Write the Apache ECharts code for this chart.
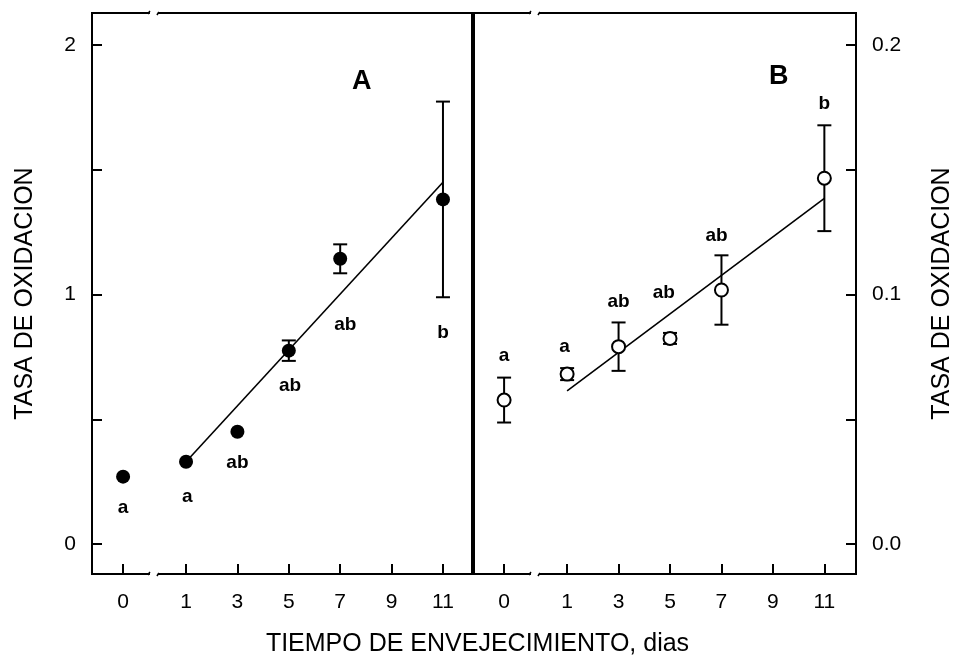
<!DOCTYPE html>
<html>
<head>
<meta charset="utf-8">
<script src="https://cdn.jsdelivr.net/npm/echarts@6/dist/echarts.min.js"></script>
<style>
html, body { margin: 0; padding: 0; background: #fff; }
#chart { width: 955px; height: 662px; }
</style>
</head>
<body>
<div id="chart"></div>
<script>
// el eje x esta cortado entre 0 y 1: el dia 0 se dibuja en una posicion ficticia
var POS_CERO = -1.45;
var diasEje = [0, 1, 3, 5, 7, 9, 11];
var ticksY_A = [0, 0.5, 1, 1.5, 2];
var etiquetasY_A = [0, 1, 2];
var ticksY_B = [0, 0.05, 0.1, 0.15, 0.2];
var etiquetasY_B = [0, 0.1, 0.2];

// Panel A (circulos llenos)
var diasA = [0, 1, 3, 5, 7, 11];
var mediaA = [0.27, 0.33, 0.45, 0.775, 1.143, 1.381];
var errorA = [0, 0, 0, 0.041, 0.058, 0.392];
var rectaA = [[1, 0.33], [11, 1.45]];
var letrasA = ['a', 'a', 'ab', 'ab', 'ab', 'b'];
var letrasXA = [0, 1.05, 3, 5.05, 7.2, 11];
var letrasYA = [0.144, 0.19, 0.325, 0.633, 0.88, 0.846];

// Panel B (circulos vacios)
var diasB = [0, 1, 3, 5, 7, 11];
var mediaB = [0.0577, 0.0681, 0.0791, 0.0824, 0.1018, 0.1466];
var errorB = [0.009, 0.0024, 0.0097, 0.0022, 0.0139, 0.0212];
var rectaB = [[1, 0.0614], [11, 0.1385]];
var letrasB = ['a', 'a', 'ab', 'ab', 'ab', 'b'];
var letrasXB = [0, 0.9, 3, 4.76, 6.81, 11];
var letrasYB = [0.0754, 0.079, 0.0971, 0.1007, 0.1234, 0.1766];

var FUENTE = '"Liberation Sans", Arial, sans-serif';

function pos(d) {
	return d === 0 ? POS_CERO : d;
}

function puntos(dias, valores, extra) {
	return dias.map(function(d, i) {
		var p = [pos(d), valores[i]];
		if (extra) p.push(extra[i]);
		return p;
	});
}

function barraError(params, api) {
	var x = api.value(0), y = api.value(1), e = api.value(2);
	if (!e) return null;
	var a = api.coord([x, y + e]);
	var b = api.coord([x, y - e]);
	var w = 7;
	var st = { stroke: '#000', lineWidth: 2 };
	return {
		type: 'group',
		children: [
			{ type: 'line', shape: { x1: a[0], y1: a[1], x2: b[0], y2: b[1] }, style: st },
			{ type: 'line', shape: { x1: a[0] - w, y1: a[1], x2: a[0] + w, y2: a[1] }, style: st },
			{ type: 'line', shape: { x1: b[0] - w, y1: b[1], x2: b[0] + w, y2: b[1] }, style: st }
		]
	};
}

function ejeX(idx, min, max) {
	return {
		type: 'value',
		gridIndex: idx,
		min: min,
		max: max,
		splitLine: { show: false },
		axisLine: { show: true, onZero: false, lineStyle: { color: '#000', width: 2 } },
		axisTick: {
			show: true, inside: true, length: 10,
			customValues: diasEje.map(pos),
			lineStyle: { color: '#000', width: 2 }
		},
		axisLabel: {
			show: true, margin: 18,
			customValues: diasEje.map(pos),
			formatter: function(v) { return v < 0 ? '0' : String(v); },
			color: '#000', fontSize: 21, fontFamily: FUENTE
		}
	};
}

function ejeY(idx, min, max, ticks, etiquetas, lado, decimales, gap) {
	return {
		type: 'value',
		gridIndex: idx,
		position: lado,
		min: min,
		max: max,
		name: 'TASA DE OXIDACION',
		nameLocation: 'middle',
		nameRotate: 90,
		nameGap: gap,
		nameTextStyle: { color: '#000', fontSize: 25, fontFamily: FUENTE },
		splitLine: { show: false },
		axisLine: { show: true, onZero: false, lineStyle: { color: '#000', width: 2 } },
		axisTick: {
			show: true, inside: true, length: 10,
			customValues: ticks,
			lineStyle: { color: '#000', width: 2 }
		},
		axisLabel: {
			show: true, margin: 16,
			customValues: etiquetas,
			formatter: function(v) { return v.toFixed(decimales); },
			color: '#000', fontSize: 21, fontFamily: FUENTE
		}
	};
}

function serieLetras(idx, xs, ys, letras) {
	return {
		type: 'scatter',
		xAxisIndex: idx,
		yAxisIndex: idx,
		silent: true,
		symbol: 'circle',
		symbolSize: 1,
		itemStyle: { color: 'rgba(0,0,0,0)', opacity: 1 },
		z: 5,
		label: {
			show: true,
			position: 'inside',
			formatter: function(p) { return p.data[2]; },
			color: '#000', opacity: 1, fontSize: 19, fontWeight: 'bold', fontFamily: FUENTE
		},
		data: xs.map(function(x, i) { return [pos(x), ys[i], letras[i]]; })
	};
}

var chart = echarts.init(document.getElementById('chart'));

var option = {
	backgroundColor: '#fff',
	animation: false,
	grid: [
		{ left: 92, top: 13, width: 380, height: 561, show: true, borderColor: '#000', borderWidth: 2, outerBoundsMode: 'none' },
		{ left: 474, top: 13, width: 382, height: 561, show: true, borderColor: '#000', borderWidth: 2, outerBoundsMode: 'none' }
	],
	xAxis: [
		ejeX(0, -2.66, 12.13),
		ejeX(1, -2.62, 12.23)
	],
	yAxis: [
		ejeY(0, -0.12, 2.128, ticksY_A, etiquetasY_A, 'left', 0, 54),
		ejeY(1, -0.012, 0.2128, ticksY_B, etiquetasY_B, 'right', 1, 74)
	],
	graphic: [
		{ type: 'text', left: 352, top: 68, style: { text: 'A', fill: '#000', fontSize: 27, fontWeight: 'bold', fontFamily: FUENTE } },
		{ type: 'text', left: 769, top: 63, style: { text: 'B', fill: '#000', fontSize: 27, fontWeight: 'bold', fontFamily: FUENTE } },
		{ type: 'text', left: 'center', top: 632, style: { text: 'TIEMPO DE ENVEJECIMIENTO, dias', fill: '#000', fontSize: 25, fontFamily: FUENTE } }
	],
	series: [
		// panel A
		{
			type: 'custom', xAxisIndex: 0, yAxisIndex: 0, z: 2,
			renderItem: barraError, encode: { x: 0, y: 1 },
			data: puntos(diasA, mediaA, errorA)
		},
		{
			type: 'line', xAxisIndex: 0, yAxisIndex: 0, z: 3,
			symbol: 'none', lineStyle: { color: '#000', width: 1.6 },
			data: rectaA
		},
		{
			type: 'scatter', xAxisIndex: 0, yAxisIndex: 0, z: 4,
			symbol: 'circle', symbolSize: 14,
			itemStyle: { color: '#000', opacity: 1 },
			data: puntos(diasA, mediaA)
		},
		serieLetras(0, letrasXA, letrasYA, letrasA),
		// panel B
		{
			type: 'custom', xAxisIndex: 1, yAxisIndex: 1, z: 2,
			renderItem: barraError, encode: { x: 0, y: 1 },
			data: puntos(diasB, mediaB, errorB)
		},
		{
			type: 'line', xAxisIndex: 1, yAxisIndex: 1, z: 3,
			symbol: 'none', lineStyle: { color: '#000', width: 1.6 },
			data: rectaB
		},
		{
			type: 'scatter', xAxisIndex: 1, yAxisIndex: 1, z: 4,
			symbol: 'circle', symbolSize: 13,
			itemStyle: { color: '#fff', borderColor: '#000', borderWidth: 2, opacity: 1 },
			data: puntos(diasB, mediaB)
		},
		serieLetras(1, letrasXB, letrasYB, letrasB)
	]
};

chart.setOption(option);

// marcas de corte del eje entre 0 y 1 (arriba y abajo de cada panel)
var cortes = [];
[0, 1].forEach(function(idx) {
	var x = chart.convertToPixel({ xAxisIndex: idx }, -0.25);
	[13, 574].forEach(function(y) {
		cortes.push({ type: 'rect', shape: { x: x - 4, y: y - 3, width: 8, height: 6 }, style: { fill: '#fff' }, z: 100 });
		cortes.push({ type: 'line', shape: { x1: x - 6, y1: y + 1, x2: x - 4, y2: y - 2 }, style: { stroke: '#000', lineWidth: 1.5 }, z: 100 });
		cortes.push({ type: 'line', shape: { x1: x + 3, y1: y + 2, x2: x + 5, y2: y - 1 }, style: { stroke: '#000', lineWidth: 1.5 }, z: 100 });
	});
});
chart.setOption({ graphic: option.graphic.concat(cortes) });
</script>
</body>
</html>
